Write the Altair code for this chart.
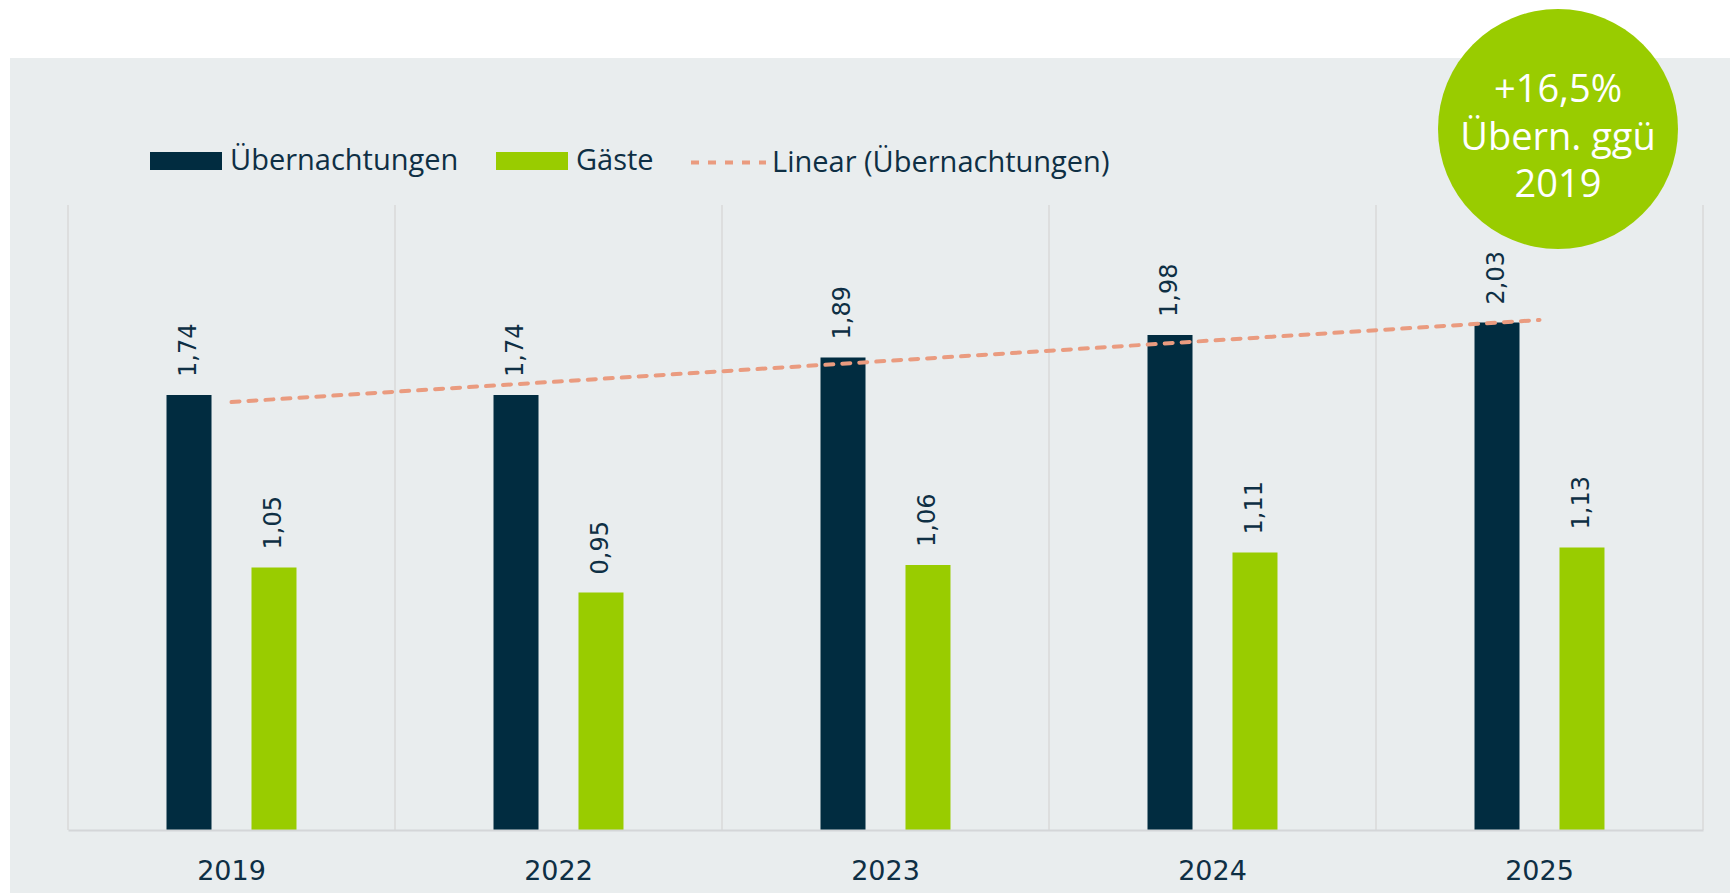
import altair as alt
import pandas as pd
import numpy as np

# ---- data ----
years = ["2019", "2022", "2023", "2024", "2025"]
uebernachtungen = [1.74, 1.74, 1.89, 1.98, 2.03]
gaeste = [1.05, 0.95, 1.06, 1.11, 1.13]
series_names = ["Übernachtungen", "Gäste"]
trend_name = "Linear (Übernachtungen)"
note_lines = ["+16,5%", "Übern. ggü", "2019"]

NAVY = "#012C40"
GREEN = "#99CC00"
SALMON = "#EA9B7F"
PANEL = "#E9EDEE"
GRID = "#D9D9D9"
TEXT = "#0E2F44"

W, H = 1635, 625
PAD = {"left": 68, "top": 205, "right": 27, "bottom": 63}

rows = []
for yr, u, g in zip(years, uebernachtungen, gaeste):
    rows.append({"year": yr, "series": series_names[0], "value": u})
    rows.append({"year": yr, "series": series_names[1], "value": g})
bars_df = pd.DataFrame(rows)
bars_df["label"] = bars_df["value"].map(lambda v: f"{v:.2f}".replace(".", ","))

idx = np.arange(1, len(years) + 1)
slope, intercept = np.polyfit(idx, uebernachtungen, 1)
trend_df = pd.DataFrame({"year": years, "trend": intercept + slope * idx, "kind": trend_name})

one = pd.DataFrame({"k": [0]})
note_df = pd.DataFrame({"text": ["\n".join(note_lines)]})

x_scale = alt.Scale(domain=years, paddingInner=0, paddingOuter=0)
y_scale = alt.Scale(domain=[0, 2.5], nice=False, zero=True)
off_scale = alt.Scale(domain=series_names, paddingInner=0, paddingOuter=0.924)
x_axis = alt.Axis(title=None, labelFont="DejaVu Sans", labelFontSize=27, labelColor=TEXT,
                  labelPadding=28, ticks=False, grid=False, domainColor="#D4D6D8",
                  domainWidth=2, labelAngle=0, zindex=1)

X = alt.X("year:N", scale=x_scale, axis=x_axis)

panel = alt.Chart(one).mark_rect(color=PANEL).encode(
    x=alt.value(-PAD["left"] + 10), x2=alt.value(W + PAD["right"]),
    y=alt.value(-PAD["top"] + 58), y2=alt.value(H + PAD["bottom"]))

grid = alt.Chart(pd.DataFrame({"year": years})).mark_rule(color=GRID, strokeWidth=1.5).encode(
    x=alt.X("year:N", scale=x_scale, axis=x_axis, bandPosition=0))

right_rule = alt.Chart(one).mark_rule(color=GRID, strokeWidth=1.5).encode(
    x=alt.value(W), y=alt.value(0), y2=alt.value(H))

bars = alt.Chart(bars_df).mark_bar(width=45).encode(
    x=X,
    xOffset=alt.XOffset("series:N", scale=off_scale),
    y=alt.Y("value:Q", scale=y_scale, axis=None),
    color=alt.Color("series:N", scale=alt.Scale(domain=series_names, range=[NAVY, GREEN]),
                    legend=alt.Legend(title=None, orient="none", legendX=82, legendY=-80,
                                      direction="horizontal",
                                      symbolType="M-1,-0.25L1,-0.25L1,0.25L-1,0.25Z",
                                      symbolSize=5184, symbolOpacity=1, symbolStrokeWidth=0,
                                      labelFont="Open Sans", labelFontSize=29, labelColor=TEXT,
                                      labelOffset=8, columnPadding=37, padding=0, labelLimit=500)),
)

trend = alt.Chart(trend_df).mark_line(color=SALMON, strokeWidth=4, strokeCap="round").encode(
    x=X,
    y=alt.Y("trend:Q", scale=y_scale, axis=None),
    strokeDash=alt.StrokeDash("kind:N", scale=alt.Scale(domain=[trend_name], range=[[8, 9]]),
                              legend=alt.Legend(title=None, orient="none", legendX=621, legendY=-82,
                                                symbolType="stroke", symbolSize=5625,
                                                symbolStrokeColor=SALMON, symbolStrokeWidth=4,
                                                symbolDash=[10, 5],
                                                labelFont="Open Sans", labelFontSize=29,
                                                labelColor=TEXT, labelOffset=4, padding=0,
                                                labelLimit=600)),
)

labels = alt.Chart(bars_df).mark_text(angle=270, align="left", baseline="middle", dx=18,
                                      font="DejaVu Sans", fontSize=24, color=TEXT).encode(
    x=X,
    xOffset=alt.XOffset("series:N", scale=off_scale),
    y=alt.Y("value:Q", scale=y_scale, axis=None),
    text="label:N",
)

circle = alt.Chart(note_df).mark_circle(color=GREEN, opacity=1, size=57600).encode(
    x=alt.value(1490), y=alt.value(-76))

note_text = alt.Chart(note_df).mark_text(color="white", font="Open Sans", fontSize=38,
                                         lineBreak="\n", lineHeight=47.5, align="center",
                                         baseline="middle").encode(
    x=alt.value(1490), y=alt.value(-114), text="text:N")

chart = alt.layer(panel, grid, right_rule, bars, trend, labels, circle, note_text).properties(
    width=W, height=H, background="white", padding=PAD,
    autosize=alt.AutoSizeParams(type="none"),
).configure_view(stroke=None)

chart.save("out.html", embed_options={"renderer": "svg", "actions": False})
